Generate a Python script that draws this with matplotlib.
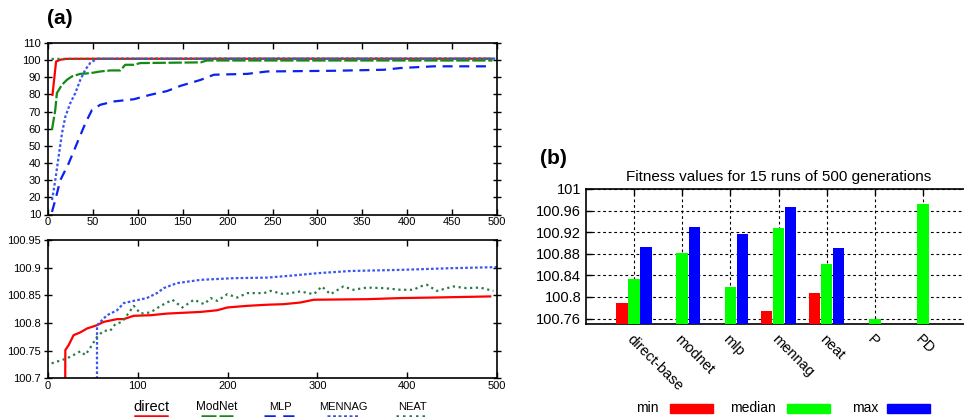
import numpy as np
import matplotlib
matplotlib.use("Agg")
import matplotlib.pyplot as plt
from matplotlib.lines import Line2D
from matplotlib.patches import Rectangle
from matplotlib.ticker import FormatStrFormatter

plt.rcParams['font.family'] = ['Liberation Sans', 'DejaVu Sans']

# ---- panel (a): best fitness vs generation ----
direct_x = [5, 9, 14, 19, 19.3, 23, 28.5, 36, 43.4, 54.6, 62, 77, 84.4, 95.5, 114, 132.7,
            170, 188.5, 199.6, 222, 244, 262.5, 281, 296, 355, 392.5, 429.6, 492.5]
direct_y = [79.8, 99.2, 100.3, 100.6, 100.751, 100.76, 100.778, 100.783, 100.79, 100.796,
            100.802, 100.807, 100.807, 100.813, 100.814, 100.817, 100.820, 100.823, 100.828,
            100.831, 100.833, 100.834, 100.837, 100.842, 100.843, 100.845, 100.846, 100.848]

modnet_x = [4.4, 8.1, 9.9, 15.5, 21, 26.6, 35.9, 47, 58.3, 69.3, 80.5, 86, 95.5, 102.8,
            170, 177, 495]
modnet_y = [59.3, 71, 80.8, 85.6, 88.5, 90.5, 92, 92.4, 93.4, 94, 94, 97.3, 97.3, 98.3,
            98.7, 99.8, 99.8]

mlp_x = [4.4, 8.1, 13.7, 23, 32.3, 41.6, 49, 58.3, 73.2, 95.5, 114, 132.7, 147.5, 170,
         184.8, 222, 244, 318, 374, 392.5, 429.6, 495]
mlp_y = [11.5, 18.4, 30, 39.8, 51.5, 63.2, 71, 74, 75.9, 77.2, 79.8, 82, 85, 88.5,
         91.5, 92, 93.4, 93.8, 94.4, 95.4, 96.4, 96.4]

mennag_x = [4.5, 8.1, 11.8, 15.6, 19.3, 24.8, 30.4, 36, 41.5, 47, 52.7, 54.5, 54.6, 65.7,
            77, 84.4, 95.5, 110, 121.4, 128.8, 143.6, 170, 207, 244, 274, 300, 337, 392.5,
            448, 500]
mennag_y = [18.4, 30, 43.7, 57.4, 67, 74.9, 80.8, 88.5, 94.4, 98.3, 100.2, 100.6, 100.796,
            100.814, 100.823, 100.836, 100.84, 100.845, 100.854, 100.863, 100.872, 100.878,
            100.881, 100.882, 100.886, 100.89, 100.894, 100.896, 100.899, 100.901]

neat_x = [4, 21, 32, 36, 41.5, 47, 54.6, 62, 69.3, 75, 82.5, 88, 95.5, 103, 114, 125.6,
          138.5, 149.6, 162.6, 173.8, 181.2, 188.5, 199.6, 210.8, 222, 240.5, 248, 262.5,
          281, 296, 305, 314.5, 329, 340, 355, 374, 392.5, 407, 414.5, 422, 433, 451.5,
          466, 481, 496]
neat_y = [100.727, 100.736, 100.745, 100.749, 100.742, 100.755, 100.775, 100.786, 100.786,
          100.798, 100.802, 100.814, 100.831, 100.817, 100.819, 100.831, 100.842, 100.828,
          100.842, 100.834, 100.845, 100.84, 100.852, 100.846, 100.854, 100.854, 100.858,
          100.852, 100.857, 100.852, 100.866, 100.852, 100.866, 100.86, 100.864, 100.863,
          100.86, 100.86, 100.866, 100.869, 100.858, 100.866, 100.863, 100.864, 100.858]

series_names = ["direct", "ModNet", "MLP", "MENNAG", "NEAT"]
series_colors = ["#ff0000", "#138a13", "#0a22ee", "#3a55f0", "#2a7a48"]
series_dashes = [None, (6, 1.2), (4.5, 3), (1.2, 1.0), (1.0, 1.6)]

# ---- panel (b): fitness bars ----
methods = ["direct-base", "modnet", "mlp", "mennag", "neat", "P", "PD"]
fit_min = [100.788, 100.70, 100.70, 100.775, 100.808, 100.70, 100.70]
fit_median = [100.834, 100.881, 100.819, 100.928, 100.862, 100.760, 100.972]
fit_max = [100.893, 100.930, 100.917, 100.967, 100.891, 100.70, 100.70]
bar_colors = ["#ff0000", "#00ff00", "#0000ff"]
bar_labels = ["min", "median", "max"]

W, H = 964, 417
fig = plt.figure(figsize=(W / 100, H / 100), dpi=100)

def fx(px):
    return px / W

def fy(py):
    return 1 - py / H

ax_top = fig.add_axes([fx(48), fy(214.5), fx(449), 171.5 / H])
ax_bot = fig.add_axes([fx(48), fy(378.3), fx(449), 138.3 / H])
ax_b = fig.add_axes([fx(586), fy(324), fx(385), 135 / H])

all_x = [direct_x, modnet_x, mlp_x, mennag_x, neat_x]
all_y = [direct_y, modnet_y, mlp_y, mennag_y, neat_y]

for ax in (ax_top, ax_bot):
    for xs, ys, c, d in zip(all_x, all_y, series_colors, series_dashes):
        ln, = ax.plot(xs, ys, color=c, lw=1.6, clip_on=True)
        if d is not None:
            ln.set_dashes(d)
    ax.set_xlim(0, 500)
    ax.tick_params(axis='both', direction='in', top=True, right=True,
                   labelsize=8, length=4, width=1, pad=2)
    ax.tick_params(axis='y', direction='inout', length=6)
    for s in ax.spines.values():
        s.set_linewidth(1.2)

ax_top.set_ylim(10, 110)
ax_top.set_yticks(np.arange(10, 111, 10))
ax_top.set_xticks(np.arange(0, 501, 50))

ax_bot.set_ylim(100.7, 100.95)
ax_bot.set_yticks([100.7, 100.75, 100.8, 100.85, 100.9, 100.95])
ax_bot.yaxis.set_major_formatter(FormatStrFormatter('%g'))
ax_bot.set_xticks(np.arange(0, 501, 100))

# legend for (a): label text above a line sample
leg_cx = [151, 217, 280, 343, 412]
leg_fs = [10.5, 8.5, 8, 8, 8]
for name, c, d, cx, fs in zip(series_names, series_colors, series_dashes, leg_cx, leg_fs):
    fig.text(fx(cx), fy(407), name, ha='center', va='center', fontsize=fs)
    ln = Line2D([fx(cx - 16), fx(cx + 16)], [fy(416), fy(416)], color=c, lw=1.8,
                transform=fig.transFigure)
    if d is not None:
        ln.set_dashes(d)
    fig.add_artist(ln)

fig.text(fx(47), fy(18), "(a)", fontsize=15, fontweight='bold', va='center', ha='left')

# ---- panel (b) ----
pos = np.arange(1, len(methods) + 1)
bw = 0.24
for off, vals, c in zip([-0.25, 0, 0.25], [fit_min, fit_median, fit_max], bar_colors):
    ax_b.bar(pos + off, vals, width=bw, color=c, zorder=3)

ax_b.set_xlim(0, 8)
ax_b.set_ylim(100.75, 101)
ax_b.set_yticks([100.76, 100.8, 100.84, 100.88, 100.92, 100.96, 101])
ax_b.yaxis.set_major_formatter(FormatStrFormatter('%g'))
ax_b.set_xticks(pos)
ax_b.set_xticklabels(methods, rotation=-45, ha='left', va='top', rotation_mode='anchor',
                     fontsize=10.5)
ax_b.tick_params(axis='both', direction='in', top=True, right=True, labelsize=10.5,
                 length=4, width=1)
ax_b.tick_params(axis='x', pad=6)
ax_b.grid(True, color='black', linestyle=(0, (2.5, 2.5)), linewidth=0.8, zorder=0)
ax_b.set_axisbelow(True)
for s in ax_b.spines.values():
    s.set_linewidth(1.2)
ax_b.set_title("Fitness values for 15 runs of 500 generations", fontsize=11, pad=6)

fig.text(fx(540), fy(158), "(b)", fontsize=15, fontweight='bold', va='center', ha='left')

leg_txt_cx = [647, 753, 865]
leg_patch_x = [670, 787, 887]
for lab, c, tx, px in zip(bar_labels, bar_colors, leg_txt_cx, leg_patch_x):
    fig.text(fx(tx), fy(408), lab, ha='center', va='center', fontsize=10)
    fig.add_artist(Rectangle((fx(px), fy(413)), fx(43), 9 / H, color=c,
                             transform=fig.transFigure))

fig.savefig("out.png", dpi=100)
